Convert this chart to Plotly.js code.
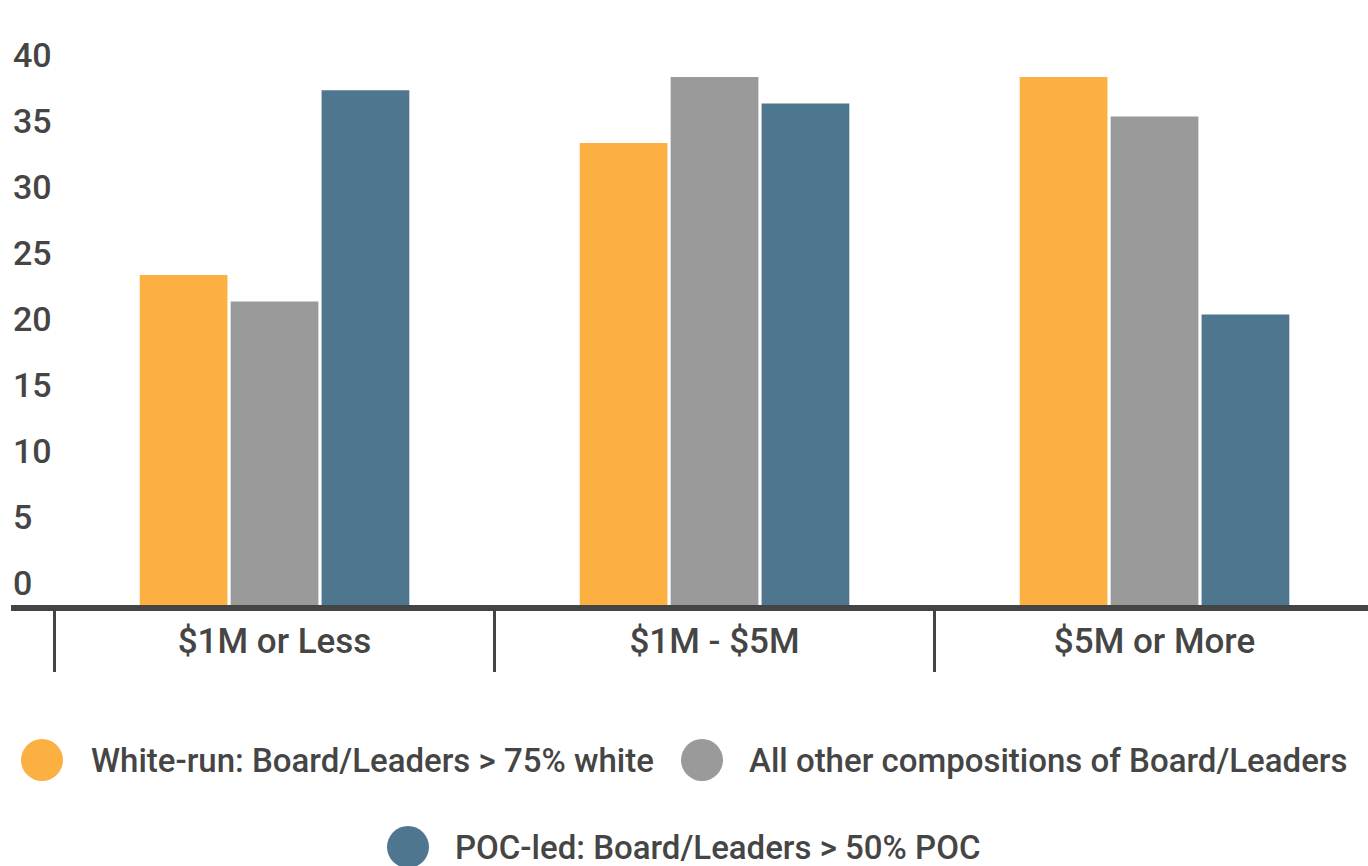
<!DOCTYPE html>
<html>
<head>
<meta charset="utf-8">
<script src="https://cdn.plot.ly/plotly-3.0.1.min.js"></script>
<style>
  html, body { margin: 0; padding: 0; background: #fff; }
  #chart { width: 1368px; height: 866px; }
</style>
</head>
<body>
<div id="chart"></div>
<script>
// Budget size groups
const categories = ["$1M or Less", "$1M - $5M", "$5M or More"];

// Series names and colours
const seriesNames = [
  "White-run: Board/Leaders > 75% white",
  "All other compositions of Board/Leaders",
  "POC-led: Board/Leaders > 50% POC"
];
const seriesColors = ["#FCB042", "#9A9A9A", "#4E768F"];

// Values per group (same order as categories)
const whiteRun = [25, 35, 40];
const allOther = [23, 40, 37];
const pocLed = [39, 38, 22];

const yTicks = [0, 5, 10, 15, 20, 25, 30, 35, 40];

const textColor = "#454545";
const fontFamily = "Roboto, 'Open Sans', sans-serif";
const textFont = { family: fontFamily, size: 34, color: textColor, weight: 500 };
const catFont = { family: fontFamily, size: 35, color: textColor, weight: 500 };
const legendFont = { family: fontFamily, size: 33, color: textColor, weight: 500 };

const W = 1368, H = 866;
const margin = { l: 11, r: 0, t: 77, b: 261, pad: 0 };
const plotW = W - margin.l - margin.r;
const plotH = H - margin.t - margin.b;

const seriesValues = [whiteRun, allOther, pocLed];
const traces = seriesValues.map((vals, i) => ({
  type: "bar",
  name: seriesNames[i],
  x: categories,
  y: vals,
  marker: { color: seriesColors[i], line: { width: 0 } },
  showlegend: false,
  hoverinfo: "x+y+name"
}));

// Legend built from circles + text (pixel positions on the page)
const legendItems = [
  { cx: 42, cy: 760, tx: 89 },
  { cx: 702, cy: 760, tx: 747 },
  { cx: 408, cy: 847, tx: 453 }
];
const toPaperX = px => (px - margin.l) / plotW;
const toPaperY = py => (H - margin.b - py) / plotH;

const shapes = legendItems.map((it, i) => ({
  type: "circle",
  xref: "paper", yref: "paper",
  xsizemode: "pixel", ysizemode: "pixel",
  xanchor: toPaperX(it.cx), yanchor: toPaperY(it.cy),
  x0: -21, x1: 21, y0: -21, y1: 21,
  fillcolor: seriesColors[i],
  line: { width: 0 }
}));

const legendLabels = legendItems.map((it, i) => ({
  xref: "paper", yref: "paper",
  x: toPaperX(it.tx), y: toPaperY(it.cy),
  xanchor: "left", yanchor: "middle",
  text: seriesNames[i],
  showarrow: false,
  font: legendFont
}));

// Value-axis labels sit just above their tick value, left-aligned
const yLabels = yTicks.map(v => ({
  xref: "paper", yref: "y",
  x: 0, y: v,
  xanchor: "left", yanchor: "middle",
  xshift: 0, yshift: 22,
  text: String(v),
  showarrow: false,
  font: textFont
}));

const layout = {
  width: W, height: H,
  margin: margin,
  paper_bgcolor: "#fff",
  plot_bgcolor: "#fff",
  barmode: "group",
  bargap: 0.38,
  bargroupgap: 0.035,
  showlegend: false,
  font: textFont,
  xaxis: {
    type: "category",
    range: [-0.5989, 2.4852],
    showgrid: false,
    zeroline: false,
    showline: true,
    linecolor: "#444",
    linewidth: 6,
    ticks: "outside",
    tickson: "boundaries",
    ticklen: 61,
    tickwidth: 3,
    tickcolor: "#444",
    tickfont: catFont,
    automargin: false,
    fixedrange: true
  },
  yaxis: {
    range: [0, 40],
    tickvals: yTicks,
    showticklabels: false,
    showgrid: false,
    zeroline: false,
    showline: false,
    ticks: "",
    automargin: false,
    fixedrange: true
  },
  shapes: shapes,
  annotations: yLabels.concat(legendLabels)
};

Plotly.newPlot("chart", traces, layout, { displayModeBar: false, responsive: false });
</script>
</body>
</html>
